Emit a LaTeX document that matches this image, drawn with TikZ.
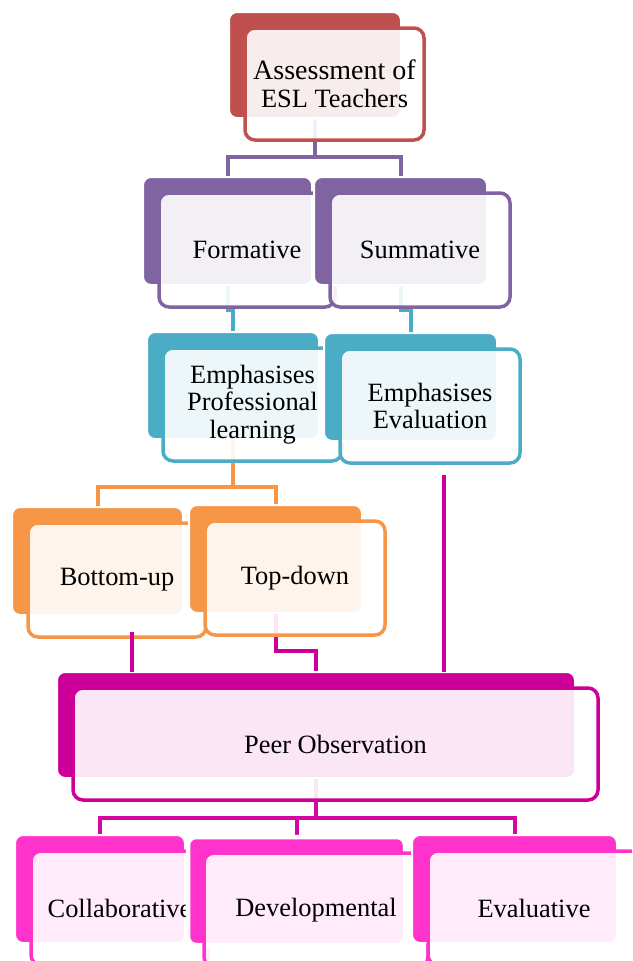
\documentclass[tikz,border=0pt]{standalone}
\usepackage{fontspec}
\setmainfont{Liberation Serif}
\usetikzlibrary{backgrounds}

\definecolor{cRed}{HTML}{C0504D}
\definecolor{cPurple}{HTML}{8064A2}
\definecolor{cTeal}{HTML}{4BACC6}
\definecolor{cOrange}{HTML}{F79646}
\definecolor{cMag}{HTML}{CC0099}
\definecolor{cPink}{HTML}{FF33CC}
\colorlet{cMagPink}{cMag!85!cPink}

\tikzset{
  fillbox/.style={rectangle, rounded corners=8pt, draw=white, line width=2pt,
    inner sep=0pt, outer sep=0pt},
  textbox/.style={rectangle, rounded corners=10pt, line width=3.5pt,
    fill=white, fill opacity=0.9, text opacity=1, draw opacity=1,
    inner sep=0pt, outer sep=0pt, align=center, text=black,
    font=\fontsize{26.4}{27.5}\selectfont},
  conn/.style={line width=4pt},
}

% [#1] extra block options, #2 name, #3 colour,
% #4-#7 corners of the solid block (x1,y1,x2,y2), #8 text
\newcommand\tierbox[8][]{%
  \node[fillbox, fill=#3, minimum width={(#6-#4)*1pt}, minimum height={(#7-#5)*1pt}, #1]
    (f#2) at ({(#4+#6)/2},{(#5+#7)/2}) {};
  \node[textbox, draw=#3, minimum width={(#6-#4+7)*1pt}, minimum height={(#7-#5+6)*1pt}]
    (o#2) at ({(#4+#6)/2+19.5},{(#5+#7)/2+19}) {#8};
}

\begin{document}
\begin{tikzpicture}[x=1pt, y=-1pt]
\useasboundingbox (0,0) rectangle (632,961);
\clip (0,0) rectangle (632,961);

% blocks, top to bottom
\tierbox{top}{cRed}{229}{12}{401}{118}{\fontsize{28}{28}\selectfont Assessment of\\ESL Teachers}
\tierbox{form}{cPurple}{143}{177}{312}{285}{Formative}
\tierbox{sum}{cPurple}{314}{177}{487}{285}{Summative}
\tierbox{empa}{cTeal}{147}{332}{319}{439}{Emphasises\\Professional\\learning}
\tierbox{empb}{cTeal}{324}{333}{497}{441}{Emphasises\\Evaluation}
\tierbox{bu}{cOrange}{12}{507}{183}{615}{Bottom-up}
\tierbox{td}{cOrange}{189}{505}{362}{613}{Top-down}
\tierbox{peer}{cMag}{57}{672}{575}{778}{Peer Observation}
\tierbox{col}{cPink}{15}{835}{185}{943}{Collaborative}
\tierbox[line width=4.5pt]{dev}{cPink}{188}{837}{405}{945}{Developmental}
\tierbox{eva}{cPink}{412}{835}{617}{943}{Evaluative}

% bar levels of the connectors
\coordinate (yP) at (0,157);
\coordinate (yT) at (0,310);
\coordinate (yO) at (0,487);
\coordinate (yM) at (0,651);
\coordinate (yK) at (0,818);

\begin{pgfonlayer}{background}
  \fill[white] (0,0) rectangle (632,961);
  \draw[conn, cPurple] (ftop.center) -- (ftop.center |- yP);
  \draw[conn, cPurple] (fform.center) -- (fform.center |- yP) -- (fsum.center |- yP) -- (fsum.center);
  \draw[conn, cTeal] (fform.center) -- (fform.center |- yT) -| (fempa.center);
  \draw[conn, cTeal] (fsum.center) -- (fsum.center |- yT) -| (fempb.center);
  \draw[conn, cOrange] (fempa.center) -- (fempa.center |- yO) -| (fbu.center);
  \draw[conn, cOrange] (fempa.center |- yO) -| (ftd.center);
  \draw[conn, cMag] (ftd.center) -- (ftd.center |- yM) -| (fpeer.center);
  \draw[conn, cMagPink] (fpeer.center) -- (fpeer.center |- yK) -| (fcol.center);
  \draw[conn, cMagPink] (fpeer.center |- yK) -| (fdev.center);
  \draw[conn, cMagPink] (fpeer.center |- yK) -| (feva.center);
\end{pgfonlayer}

% lines drawn over the blocks into Peer Observation
\coordinate (mbu) at (132,632);
\coordinate (mev) at (444,475);
\draw[conn, cMag] (mbu) -- (mbu |- fpeer.north);
\draw[conn, cMag] (mev) -- (mev |- fpeer.north);
\end{tikzpicture}
\end{document}
